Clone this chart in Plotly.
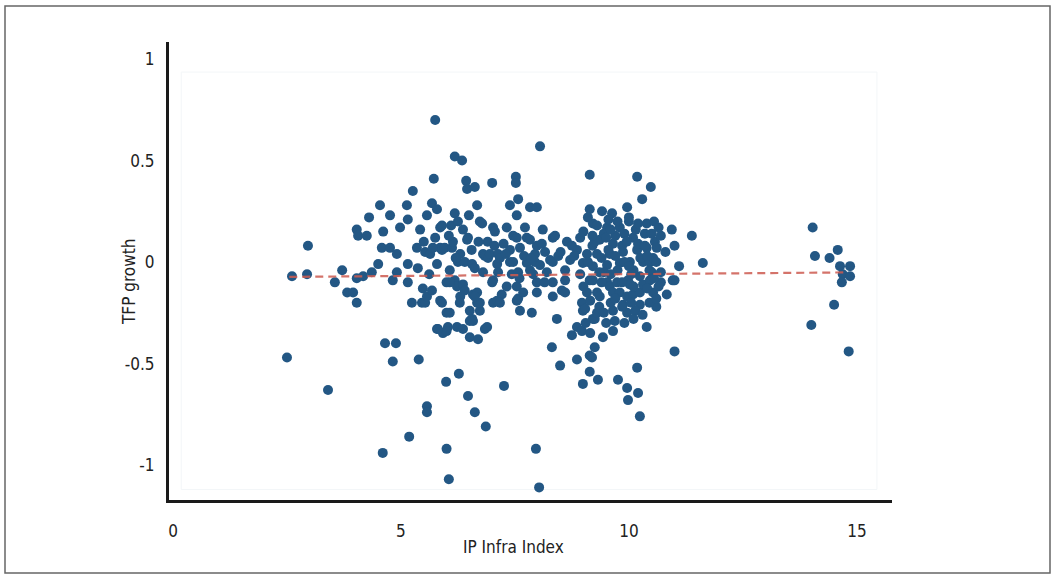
import plotly.graph_objects as go

# ---- data ----
left_x = [2.5, 2.61, 2.94, 2.96, 3.4, 3.55, 3.71, 3.82, 3.95, 4.03,
          4.03, 4.03, 4.06, 4.25, 4.3, 4.36, 4.5, 4.54, 4.58, 4.61,
          4.65, 4.6, 4.76, 4.76, 4.82, 4.82, 4.89, 4.91, 4.98, 5.13,
          5.15, 5.15, 5.15, 5.18, 5.24, 5.26, 5.35, 5.37, 5.39, 5.42,
          5.46, 5.48, 4.17, 4.91]
left_y = [-0.47, -0.07, -0.06, 0.08, -0.63, -0.10, -0.04, -0.15, -0.15, -0.20,
          -0.08, 0.16, 0.13, 0.13, 0.22, -0.05, -0.01, 0.28, 0.07, 0.15,
          -0.40, -0.94, 0.23, 0.07, -0.09, -0.49, -0.40, 0.04, 0.17, 0.28,
          0.21, -0.01, -0.10, -0.86, -0.20, 0.35, 0.07, -0.03, -0.48, 0.16,
          -0.20, -0.13, -0.07, -0.05]

mid_x = [5.53, 5.53, 5.57, 5.57, 5.57, 5.57, 5.64, 5.68, 5.68, 5.72,
         5.75, 5.75, 5.79, 5.79, 5.79, 5.86, 5.86, 5.86, 5.9, 5.9,
         5.9, 5.92, 5.96, 5.99, 6.0, 6.0, 6.0, 6.05, 6.03, 6.07,
         6.07, 6.12, 6.14, 6.18, 6.18, 6.18, 6.23, 6.23, 6.25, 6.27,
         6.3, 6.3, 6.34, 6.36, 6.36, 6.36, 6.4, 6.4, 6.43, 6.45,
         6.45, 6.47, 6.47, 6.49, 6.51, 6.51, 6.51, 6.56, 6.56, 6.58,
         6.62, 6.62, 6.62, 6.67, 6.67, 6.67, 6.69, 6.73, 6.73, 6.78,
         6.8, 6.8, 6.84, 6.84, 6.86, 6.91, 6.95, 7.0, 7.0, 7.02,
         7.02, 7.06, 7.11, 7.11, 7.13, 7.13, 7.17, 7.21, 7.26, 7.32,
         7.32, 7.39, 7.39, 7.39, 7.43, 7.46, 7.46, 7.52, 7.52, 7.54,
         7.54, 7.54, 7.54, 7.57, 7.57, 7.57, 7.61, 7.61, 7.68, 7.72,
         7.76, 7.76, 7.83, 7.83, 7.83, 7.87, 7.94, 7.94, 7.96, 7.98,
         7.98, 7.98, 7.98, 8.03, 8.05, 8.05, 8.09, 8.11, 8.16, 8.27,
         8.31, 8.33, 8.33, 8.33, 8.33, 8.38, 8.42, 8.49,
         7.17, 7.02, 6.89, 6.58, 6.73, 6.62, 6.0, 6.29, 6.07, 5.81,
         5.5, 5.62, 6.1, 6.25, 6.9, 7.25, 7.7, 8.2, 8.45, 7.9,
         6.2, 6.55, 6.7, 7.05, 7.3, 7.6, 7.85, 8.15, 6.05, 5.7]
mid_y = [0.05, -0.20, 0.23, -0.17, -0.71, -0.74, 0.04, 0.29, -0.14, 0.41,
         0.70, 0.12, 0.26, -0.01, -0.33, 0.17, 0.07, -0.19, 0.18, 0.06,
         -0.20, -0.35, 0.07, -0.59, -0.10, -0.25, -0.92, -1.07, -0.32, -0.04,
         -0.25, 0.07, 0.10, 0.52, 0.24, -0.09, -0.12, -0.32, 0.0, -0.55,
         0.04, -0.17, 0.50, 0.16, -0.11, -0.33, 0.0, -0.14, 0.40, 0.36,
         0.11, 0.12, -0.66, 0.23, -0.24, -0.29, -0.37, -0.01, -0.28, -0.16,
         0.37, -0.03, -0.74, 0.28, -0.15, -0.20, -0.38, 0.20, -0.24, 0.19,
         0.04, -0.05, 0.03, -0.33, -0.81, 0.02, 0.04, 0.39, -0.10, 0.17,
         -0.20, 0.15, -0.01, -0.19, -0.05, 0.04, 0.02, -0.16, -0.61, 0.17,
         -0.12, 0.28, 0.0, 0.06, -0.06, 0.13, 0.0, 0.42, 0.39, 0.23,
         0.12, -0.12, -0.19, 0.31, -0.05, -0.18, 0.07, -0.24, -0.15, 0.17,
         0.12, -0.005, 0.27, 0.11, -0.04, -0.25, 0.04, 0.0, -0.92, 0.27,
         0.08, -0.10, -0.15, -1.11, 0.57, -0.015, 0.09, 0.16, 0.05, 0.01,
         -0.42, 0.12, 0.0, -0.10, -0.17, 0.13, -0.28, -0.51,
         -0.20, -0.09, -0.32, -0.29, -0.20, -0.17, -0.34, -0.20, -0.10, -0.33,
         0.10, -0.06, 0.18, 0.20, 0.10, 0.09, 0.03, -0.05, 0.03, -0.06,
         0.02, 0.06, 0.10, 0.08, 0.04, -0.08, 0.02, -0.10, 0.13, 0.07]

cluster_x = [8.53, 8.6, 8.6, 8.64, 8.71, 8.75, 8.86, 8.86, 8.86, 8.93,
             8.93, 8.97, 8.97, 8.99, 8.99, 8.99, 9.14, 9.04, 9.08, 9.08,
             9.14, 9.14, 9.14, 9.14, 9.19, 9.21, 9.21, 9.21, 9.21, 9.25,
             9.25, 9.3, 9.3, 9.3, 9.32, 9.36, 9.36, 9.41, 9.43, 9.52,
             9.52, 9.52, 9.58, 9.58, 9.63, 9.65, 9.65, 9.65, 9.65, 9.69,
             9.74, 9.76, 9.8, 9.8, 9.8, 9.87, 9.87, 9.96, 9.96, 9.96,
             9.96, 9.98, 9.98, 10.02, 10.02, 10.09, 10.09, 10.18, 10.18, 10.18,
             10.2, 10.24, 10.24, 10.24, 10.24, 10.14, 10.29, 10.31, 10.31, 10.39,
             10.39, 10.39, 10.46, 10.46, 10.48, 10.53, 10.53, 10.5, 10.57, 10.61,
             10.83, 10.6, 10.94, 10.96, 11.0, 11.0, 11.0, 10.7, 11.1, 11.38,
             11.62,
             9.0, 9.3, 9.45, 9.7, 9.9, 10.0, 10.15, 10.35, 10.5, 10.7,
             10.2, 9.85, 9.55, 9.2, 8.8, 9.45, 9.75, 10.1, 10.45, 10.7,
             9.35, 9.0, 9.6, 9.85, 10.05, 10.45, 10.65, 9.15, 9.5, 10.1,
             9.9, 10.6, 10.8, 8.6, 8.5, 8.75, 9.1, 9.55, 10.55, 10.65,
             9.1, 9.25, 9.4, 9.5, 9.6, 9.7, 9.85, 9.95, 10.05, 10.25,
             10.4, 10.55, 10.3, 10.1, 9.9, 9.7, 9.4, 9.15, 9.05, 9.35,
             9.75, 10.0, 10.2, 10.4, 9.6, 9.45, 10.6, 10.35, 10.0, 9.2]
cluster_y = [-0.14, -0.15, -0.09, 0.10, 0.01, -0.36, -0.32, -0.48, 0.06, 0.12,
             -0.06, -0.20, -0.34, -0.60, -0.005, -0.24, -0.54, -0.23, 0.04, -0.15,
             0.43, 0.26, -0.09, -0.46, -0.47, 0.19, -0.02, -0.09, -0.28, -0.42,
             -0.28, 0.04, -0.15, -0.25, -0.58, 0.11, -0.17, 0.25, -0.37, 0.17,
             -0.015, -0.10, 0.04, -0.12, 0.24, 0.09, -0.15, -0.24, -0.34, -0.29,
             -0.10, -0.58, 0.17, -0.005, -0.15, 0.05, -0.21, 0.27, -0.17, -0.25,
             -0.62, -0.09, -0.68, 0.0, -0.11, 0.12, -0.16, 0.42, 0.06, -0.52,
             -0.645, -0.76, -0.07, -0.15, -0.21, -0.24, 0.31, 0.0, -0.11, 0.19,
             0.07, -0.32, -0.09, 0.0, 0.37, 0.02, -0.15, -0.05, 0.10, 0.07,
             -0.16, -0.22, 0.16, -0.09, 0.08, -0.09, -0.44, -0.10, -0.02, 0.13,
             -0.005,
             0.15, 0.18, 0.14, 0.13, 0.14, 0.20, 0.16, 0.14, 0.14, 0.13,
             0.09, 0.08, 0.06, 0.08, 0.03, -0.05, -0.04, -0.04, -0.04, -0.05,
             -0.05, -0.12, -0.20, -0.22, -0.20, -0.20, -0.12, -0.35, -0.30, -0.28,
             -0.30, 0.0, 0.05, -0.04, 0.05, 0.08, 0.22, 0.21, 0.20, 0.17,
             0.0, 0.10, 0.02, 0.12, -0.06, 0.03, -0.10, 0.10, -0.06, 0.02,
             -0.13, -0.08, -0.26, -0.12, 0.0, -0.18, -0.10, -0.19, -0.30, -0.22,
             0.20, 0.22, 0.19, 0.03, 0.16, -0.25, -0.18, 0.08, -0.02, 0.13]

right_x = [14.03, 14.08, 14.4, 14.58, 14.63, 14.85, 14.69, 14.67, 14.85, 14.5, 14.0, 14.82]
right_y = [0.17, 0.03, 0.02, 0.06, -0.02, -0.02, -0.06, -0.10, -0.07, -0.21, -0.31, -0.44]

trend_x = [2.55, 14.8]
trend_y = [-0.073, -0.051]

x_ticks = [0, 5, 10, 15]
y_ticks = [-1, -0.5, 0, 0.5, 1]
y_ticktext = ["-1", "-0.5", "0", "0.5", "1"]

for a, b in [(left_x, left_y), (mid_x, mid_y), (cluster_x, cluster_y), (right_x, right_y)]:
    assert len(a) == len(b), (len(a), len(b))

ip_infra = left_x + mid_x + cluster_x + right_x
tfp_growth = left_y + mid_y + cluster_y + right_y

FONT = "Liberation Sans Narrow, DejaVu Sans Condensed, Arial Narrow, sans-serif"

fig = go.Figure()
fig.add_trace(go.Scatter(
    x=ip_infra, y=tfp_growth, mode="markers",
    marker=dict(size=10, color="#235784", line=dict(width=0)),
    showlegend=False, hoverinfo="x+y"))
fig.add_trace(go.Scatter(
    x=trend_x, y=trend_y, mode="lines",
    line=dict(color="rgba(205,90,80,0.85)", width=2.2, dash="8px,5px"),
    showlegend=False, hoverinfo="skip"))

W, H = 1057, 580
L, R, T, B = 169, 165, 42, 80
pw, ph = W - L - R, H - T - B

def px_to_paper_x(px):
    return (px - L) / pw

def px_to_paper_y(py):
    return (H - B - py) / ph

fig.update_layout(
    width=W, height=H, autosize=False,
    margin=dict(l=L, r=R, t=T, b=B),
    paper_bgcolor="white", plot_bgcolor="white",
    font=dict(family=FONT, size=17, color="#222222"),
    xaxis=dict(range=[-0.088, 15.77], tickvals=x_ticks, showgrid=False,
               zeroline=False, showline=True, linecolor="#1a1a1a", linewidth=3,
               ticks="", ticklabelstandoff=14,
               tickfont=dict(family=FONT, size=17, color="#222222")),
    yaxis=dict(range=[-1.172, 1.084], tickvals=y_ticks, ticktext=y_ticktext,
               showgrid=False, zeroline=False, showline=True,
               linecolor="#1a1a1a", linewidth=3, ticks="", ticklabelstandoff=8,
               tickfont=dict(family=FONT, size=17, color="#222222")),
    shapes=[
        dict(type="rect", xref="x", yref="y", x0=0.18, x1=15.44, y0=-1.12, y1=0.936,
             line=dict(color="#f3f6f8", width=1), layer="below"),
        dict(type="rect", xref="paper", yref="paper",
             x0=px_to_paper_x(5), x1=px_to_paper_x(1050),
             y0=px_to_paper_y(573), y1=px_to_paper_y(6),
             line=dict(color="#666666", width=1.5)),
    ],
    annotations=[
        dict(text="IP Infra Index", xref="paper", yref="paper",
             x=px_to_paper_x(513), y=px_to_paper_y(547),
             xanchor="center", yanchor="middle", showarrow=False,
             font=dict(family=FONT, size=17, color="#222222")),
        dict(text="TFP growth", xref="paper", yref="paper",
             x=px_to_paper_x(129), y=px_to_paper_y(282), textangle=-90,
             xanchor="center", yanchor="middle", showarrow=False,
             font=dict(family=FONT, size=17, color="#222222")),
    ],
)

fig.write_html("out.html")
